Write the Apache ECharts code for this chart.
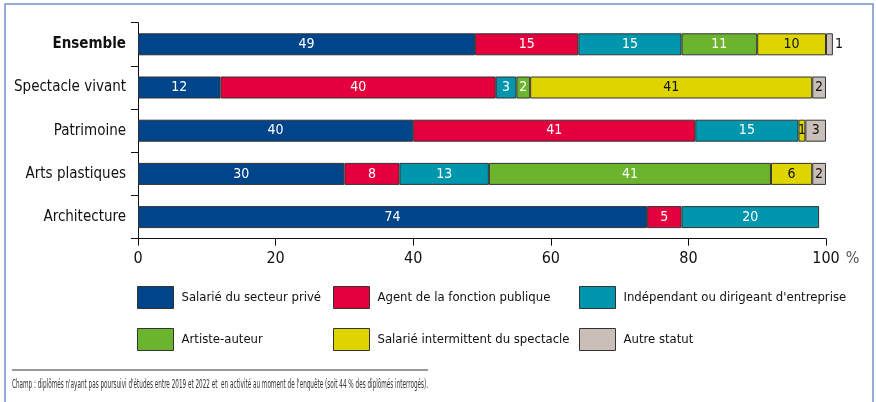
<!DOCTYPE html>
<html lang="fr">
<head>
<meta charset="utf-8">
<title>Statut d'emploi des diplômés</title>
<script src="https://cdn.jsdelivr.net/npm/echarts@6/dist/echarts.min.js"></script>
<style>
  html, body { margin: 0; padding: 0; background: #fff; }
  #chart { width: 876px; height: 402px; }
</style>
</head>
<body>
<div id="chart"></div>
<script>
// Répartition (%) des diplômés en activité selon leur statut, par domaine
const categories = ['Ensemble', 'Spectacle vivant', 'Patrimoine', 'Arts plastiques', 'Architecture'];
const prive        = [49, 12, 40, 30, 74];
const publique     = [15, 40, 41, 8, 5];
const independant  = [15, 3, 15, 13, 20];
const artiste      = [11, 2, null, 41, null];
const intermittent = [10, 41, 1, 6, null];
const autre        = [1, 2, 3, 2, null];

const xTicks = [0, 20, 40, 60, 80, 100];

const seriesNames = [
  'Salarié du secteur privé',
  'Agent de la fonction publique',
  "Indépendant ou dirigeant d'entreprise",
  'Artiste-auteur',
  'Salarié intermittent du spectacle',
  'Autre statut'
];
const seriesValues = [prive, publique, independant, artiste, intermittent, autre];
const colors = ['#00458a', '#e4003d', '#0096ad', '#6bb42e', '#ddd400', '#c9beb8'];
const labelColors = ['#fff', '#fff', '#fff', '#fff', '#111', '#111'];

const FONT = '"Liberation Sans Narrow", "DejaVu Sans Condensed", sans-serif';

const chart = echarts.init(document.getElementById('chart'), null, { renderer: 'canvas' });

const series = seriesValues.map((vals, s) => ({
  name: seriesNames[s],
  type: 'bar',
  stack: 'total',
  barWidth: 22,
  clip: false,
  itemStyle: { color: colors[s], borderColor: '#333', borderWidth: 1 },
  label: {
    show: true,
    position: 'inside',
    color: labelColors[s],
    fontFamily: FONT,
    fontSize: 14,
    formatter: p => (p.value == null ? '' : String(p.value))
  },
  data: vals.map((v, i) => {
    // the very small last segment of "Ensemble" carries its value outside
    if (s === 5 && i === 0) {
      return { value: v, label: { position: 'right', distance: 2, color: '#111' } };
    }
    return v;
  })
}));

// one legend block per entry, laid out on a 3 x 2 grid
const legendCols = [137, 333, 579];
const legendRows = [286, 328];
const legends = seriesNames.map((name, k) => ({
  data: [name],
  left: legendCols[k % 3],
  top: legendRows[Math.floor(k / 3)],
  padding: 0,
  itemWidth: 36,
  itemHeight: 22,
  selectedMode: false,
  icon: 'rect',
  itemStyle: { borderColor: '#333', borderWidth: 1 },
  textStyle: { fontFamily: FONT, fontSize: 13, color: '#111', padding: [0, 0, 0, 3] }
}));

chart.setOption({
  animation: false,
  backgroundColor: '#fff',
  textStyle: { fontFamily: FONT },
  grid: { left: 138, right: 50, top: 22.7, bottom: 163.3, containLabel: false, outerBoundsMode: 'none' },
  legend: legends,
  xAxis: {
    type: 'value',
    min: xTicks[0],
    max: xTicks[xTicks.length - 1],
    interval: 20,
    name: '%',
    nameLocation: 'end',
    nameGap: 8,
    nameTextStyle: { fontFamily: FONT, fontSize: 16, color: '#555', verticalAlign: 'top', padding: [12, 0, 0, 0] },
    axisLine: { show: true, lineStyle: { color: '#111', width: 1 } },
    axisTick: { show: true, length: 7, inside: false, lineStyle: { color: '#111' } },
    axisLabel: { fontFamily: FONT, fontSize: 16, color: '#111', margin: 12 },
    splitLine: { show: false }
  },
  yAxis: {
    type: 'category',
    inverse: true,
    data: categories,
    axisLine: { show: true, lineStyle: { color: '#111', width: 1 } },
    axisTick: { show: true, length: 7, inside: false, lineStyle: { color: '#111' } },
    axisLabel: {
      fontFamily: FONT,
      fontSize: 15,
      color: '#111',
      margin: 12,
      formatter: (v, i) => (i === 0 ? '{b|' + v + '}' : v),
      rich: { b: { fontFamily: FONT, fontSize: 15, fontWeight: 'bold', color: '#111' } }
    },
    splitLine: { show: false }
  },
  graphic: [
    {
      type: 'rect',
      shape: { x: 5, y: 4, width: 868, height: 420 },
      style: { fill: 'none', stroke: '#7393c8', lineWidth: 1.5 },
      silent: true
    },
    {
      type: 'line',
      shape: { x1: 12, y1: 370, x2: 428, y2: 370 },
      style: { stroke: '#333', lineWidth: 1 },
      silent: true
    },
    {
      // source note, set in a tightly condensed face
      type: 'text',
      x: 12,
      y: 385,
      scaleX: 0.506,
      style: {
        text: "Champ : diplômés n'ayant pas poursuivi d'études entre 2019 et 2022 et  en activité au moment de l'enquête (soit 44 % des diplômés interrogés).",
        fontFamily: FONT,
        fontSize: 12.5,
        fill: '#333',
        verticalAlign: 'middle'
      },
      silent: true
    }
  ],
  series: series
});
</script>
</body>
</html>
